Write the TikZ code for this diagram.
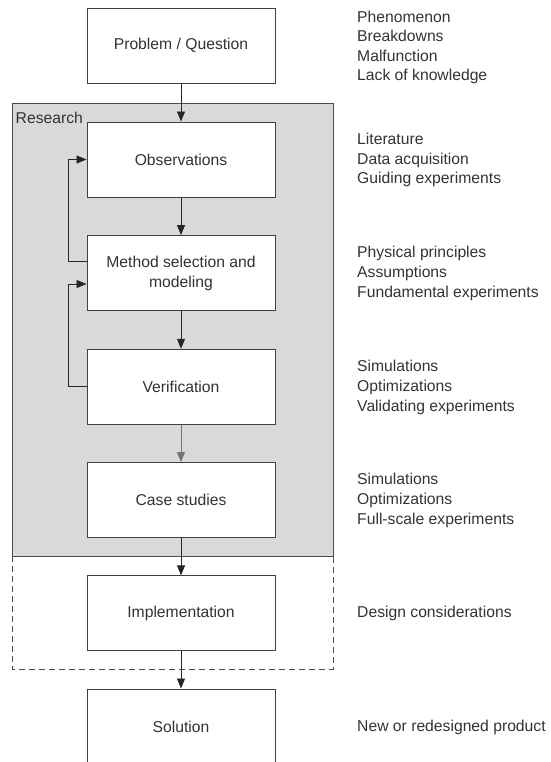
\documentclass[tikz,border=0pt]{standalone}
\usepackage{fontspec}
\setmainfont{Liberation Sans}
\usetikzlibrary{arrows.meta}
\definecolor{regionfill}{HTML}{D9D9D9}
\definecolor{ink}{HTML}{333333}
\begin{document}
\begin{tikzpicture}[x=1pt,y=-1pt,
  stagebox/.style={draw=black!75, line width=0.9pt, fill=white,
    minimum width=188pt, minimum height=75pt, inner sep=0pt,
    align=center, text=ink, font=\fontsize{15.7}{20}\selectfont},
  notes/.style={anchor=west, align=left, inner sep=0pt, text=ink,
    font=\fontsize{15.7}{19.6}\selectfont},
  flow/.style={-{Triangle[length=10pt,width=8pt]}, line width=0.8pt, draw=black!85}
]
\useasboundingbox (0,0) rectangle (550,762);

% research region and implementation region
\draw[fill=regionfill, draw=black!70, line width=0.9pt] (12,103) rectangle (333,556);
\draw[black!70, line width=0.9pt, dash pattern=on 6pt off 4pt]
  (12,556) -- (12,669) -- (333,669) -- (333,556);
\node[anchor=west, inner sep=0pt, text=ink, font=\fontsize{15.7}{19}\selectfont]
  (research) at (15.5,118) {Research};

% stages
\node[stagebox] (problem) at (181,45.5)  {Problem / Question};
\node[stagebox] (obs)     at (181,159.5) {Observations};
\node[stagebox] (method)  at (181,273)   {Method selection and\\modeling};
\node[stagebox] (verif)   at (181,386.7) {Verification};
\node[stagebox] (cases)   at (181,500)   {Case studies};
\node[stagebox] (impl)    at (181,613.3) {Implementation};
\node[stagebox] (sol)     at (181,726.5) {Solution};

% main flow
\draw[flow] (problem) -- (obs);
\draw[flow] (obs) -- (method);
\draw[flow] (method) -- (verif);
\draw[flow, draw=black!55] (verif) -- (cases);
\draw[flow] (cases) -- (impl);
\draw[flow] (impl) -- (sol);

% feedback loops
\coordinate (loopx) at (68,0);
\draw[flow] ([yshift=12pt]method.west) -- ([yshift=12pt]method.west -| loopx)
  -- (obs.west -| loopx) -- (obs.west);
\draw[flow] (verif.west) -- (verif.west -| loopx)
  -- ([yshift=-11pt]method.west -| loopx) -- ([yshift=-11pt]method.west);

% side notes
\node[notes] (n1) at (357,47.5)  {Phenomenon\\Breakdowns\\Malfunction\\Lack of knowledge};
\node[notes] (n2) at (357,160)   {Literature\\Data acquisition\\Guiding experiments};
\node[notes] (n3) at (357,273.5) {Physical principles\\Assumptions\\Fundamental experiments};
\node[notes] (n4) at (357,387.5) {Simulations\\Optimizations\\Validating experiments};
\node[notes] (n5) at (357,500.5) {Simulations\\Optimizations\\Full-scale experiments};
\node[notes] (n6) at (357,613.5) {Design considerations};
\node[notes] (n7) at (357,727)   {New or redesigned product};
\end{tikzpicture}
\end{document}
